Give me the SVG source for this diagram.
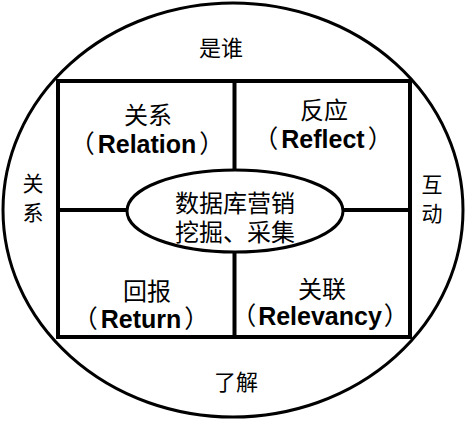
<svg xmlns="http://www.w3.org/2000/svg" width="473" height="425" viewBox="0 0 473 425">
<style>
.ln{fill:none;stroke:#000;}
.cj{font-family:"Noto Sans CJK SC","Noto Sans",sans-serif;fill:#000;text-anchor:middle;}
.en{font-family:"Liberation Sans","Noto Sans CJK SC",Arial,sans-serif;font-weight:bold;font-size:25px;fill:#000;text-anchor:middle;}
.pa{font-family:"Noto Sans CJK SC",sans-serif;font-weight:normal;}
</style>
<rect width="473" height="425" fill="#fff"/>
<g id="outer-circle">
<ellipse class="ln" cx="233" cy="210" rx="230" ry="207" stroke-width="3"/>
<text class="cj" x="221" y="56" font-size="22">是谁</text>
<text class="cj" x="236" y="390" font-size="22">了解</text>
<text class="cj" x="33" y="191" font-size="21">关</text>
<text class="cj" x="33" y="220" font-size="21">系</text>
<text class="cj" x="432" y="192" font-size="21">互</text>
<text class="cj" x="432" y="221" font-size="21">动</text>
</g>
<g id="connectors">
<rect class="ln" x="58" y="81" width="352" height="256" stroke-width="4"/>
<line class="ln" x1="234.5" y1="81" x2="234.5" y2="337" stroke-width="4"/>
<line class="ln" x1="58" y1="210" x2="410" y2="210" stroke-width="4"/>
</g>
<g id="relation">
<text class="cj" x="148" y="124" font-size="24">关系</text>
<text class="en" x="147" y="153"><tspan class="pa">（</tspan><tspan dx="3">Relation</tspan><tspan class="pa" dx="3">）</tspan></text>
</g>
<g id="reflect">
<text class="cj" x="324" y="119" font-size="24">反应</text>
<text class="en" x="323" y="148"><tspan class="pa">（</tspan><tspan dx="3">Reflect</tspan><tspan class="pa" dx="3">）</tspan></text>
</g>
<g id="return">
<text class="cj" x="147" y="300" font-size="24">回报</text>
<text class="en" x="141" y="328"><tspan class="pa">（</tspan><tspan dx="3">Return</tspan><tspan class="pa" dx="3">）</tspan></text>
</g>
<g id="relevancy">
<text class="cj" x="322" y="298" font-size="24">关联</text>
<text class="en" x="320" y="325"><tspan class="pa">（</tspan><tspan dx="2">Relevancy</tspan><tspan class="pa" dx="2">）</tspan></text>
</g>
<g id="center">
<ellipse cx="235" cy="211" rx="108" ry="41" fill="#fff" stroke="#000" stroke-width="3"/>
<text class="cj" x="235" y="212" font-size="24">数据库营销</text>
<text class="cj" x="235" y="241" font-size="24">挖掘、采集</text>
</g>
</svg>
